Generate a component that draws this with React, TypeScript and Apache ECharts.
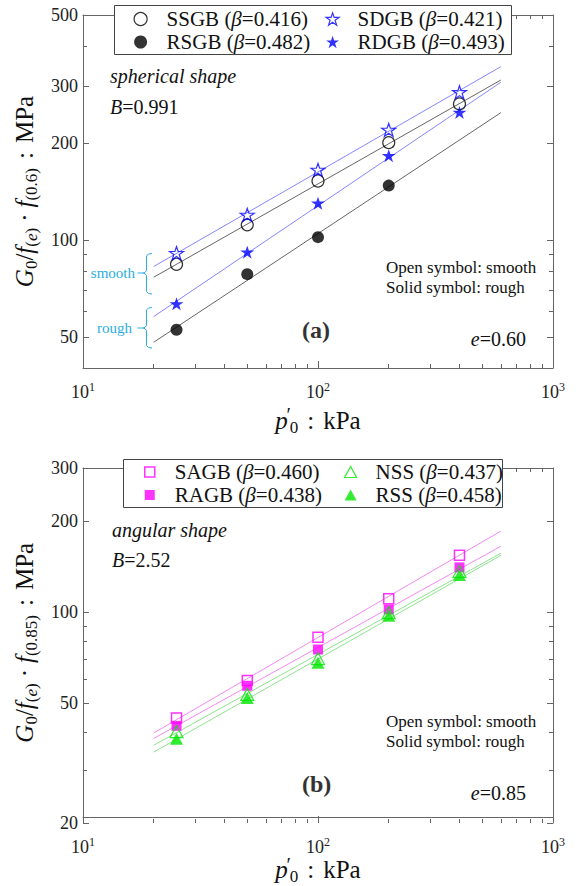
import React, { useEffect, useRef } from 'react';
import * as echarts from 'echarts';

const FONT = "'Liberation Serif', 'Times New Roman', 'DejaVu Serif', serif";

// ---------- data ----------
const pressure = [25, 50, 100, 200, 400];
const pressureRSGB = [25, 50, 100, 200];
const fitRange = [20, 600];

// panel (a) spherical shape
const SSGB = [84, 111.4, 152.5, 200.6, 264.7];
const RSGB = [52.6, 78.3, 102, 147.5];
const SDGB = [91, 119.6, 165, 219.7, 287.7];
const RDGB = [63.3, 91.6, 130, 182.8, 249];
const SSGBfit = [76.6, 314];
const RSGBfit = [48.1, 248.6];
const SDGBfit = [82.7, 345.5];
const RDGBfit = [57.8, 309];

// panel (b) angular shape
const SAGB = [43.2, 57.8, 80.9, 109, 152.6];
const RAGB = [40.7, 55.5, 73.5, 100.3, 138.9];
const NSS = [38.9, 51.9, 68.5, 97.8, 134.7];
const RSS = [36.8, 50.5, 66.3, 95.4, 131];
const SAGBfit = [38.5, 184];
const RAGBfit = [36.9, 163.6];
const NSSfit = [35.0, 155];
const RSSfit = [33.2, 152.5];

const namesA = ['SSGB', 'RSGB', 'SDGB', 'RDGB'];
const betasA = ['0.416', '0.482', '0.421', '0.493'];
const namesB = ['SAGB', 'RAGB', 'NSS', 'RSS'];
const betasB = ['0.460', '0.438', '0.437', '0.458'];

// axes
const xRange = [10, 1000];
const xMajorTicks = [10, 100, 1000];
const xMinorTicks = [20, 30, 40, 50, 60, 70, 80, 90, 200, 300, 400, 500, 600, 700, 800, 900];
const yRangeA = [40, 500];
const yTicksA = [50, 100, 200, 300, 500];
const yMinorA = [60, 70, 80, 90, 400];
const yRangeB = [20, 300];
const yTicksB = [20, 50, 100, 200, 300];
const yMinorB = [30, 40, 60, 70, 80, 90];

// ---------- styles ----------
const AXIS_COLOR = '#666';
const TEXT = '#111';
const STAR = 'path://M50,0 L61.8,35.4 L100,35.4 L69.1,57.3 L80.9,95.1 L50,72.4 L19.1,95.1 L30.9,57.3 L0,35.4 L38.2,35.4 Z';
const SQUARE_ICON = 'path://M0,0 L10,0 L10,10 L0,10 Z';
const TRI_ICON = 'path://M6,0 L12,11 L0,11 Z';

const nameRich: any = {
  n: { fontFamily: FONT, fontSize: 25, color: TEXT, lineHeight: 30 },
  c: { fontFamily: FONT, fontSize: 25, color: TEXT, lineHeight: 30, padding: [0, 9, 0, 9] },
  d: { fontFamily: FONT, fontSize: 25, color: TEXT, lineHeight: 30, padding: [0, 6, 0, 6] },
  i: { fontFamily: FONT, fontSize: 25, fontStyle: 'italic', color: TEXT, lineHeight: 30 },
  s: { fontFamily: FONT, fontSize: 17, color: TEXT, lineHeight: 30, padding: [14, 0, 0, 0] },
  si: { fontFamily: FONT, fontSize: 17, fontStyle: 'italic', color: TEXT, lineHeight: 30, padding: [14, 0, 0, 0] },
  p: { fontFamily: FONT, fontSize: 20, color: TEXT, lineHeight: 30, padding: [0, 0, 10, 0], width: 2 },
};

const lg = Math.log10;

function buildAxes() {
  const grids: any[] = [];
  const xAxes: any[] = [];
  const yAxes: any[] = [];
  const panels = [
    { top: 15, height: 353, yRange: yRangeA, yTicks: yTicksA, yMinor: yMinorA, sub: '(0.6)' },
    { top: 468, height: 355, yRange: yRangeB, yTicks: yTicksB, yMinor: yMinorB, sub: '(0.85)' },
  ];
  panels.forEach((p) => {
    const base = grids.length;
    for (let k = 0; k < 5; k++) grids.push({ left: 83, width: 470, top: p.top, height: p.height });
    const xl = [lg(xRange[0]), lg(xRange[1])];
    const yl = [lg(p.yRange[0]), lg(p.yRange[1])];
    xAxes.push({
      type: 'log', logBase: 10, gridIndex: base, min: xRange[0], max: xRange[1], position: 'bottom',
      axisLine: { show: true, lineStyle: { color: AXIS_COLOR, width: 1 } },
      axisTick: { show: false }, axisLabel: { show: false }, splitLine: { show: false },
      name: "{i|p}{p|′}{s|0}{c|:}{n|kPa}", nameLocation: 'middle', nameGap: 37,
      nameTextStyle: { rich: nameRich },
    });
    yAxes.push({
      type: 'log', logBase: 10, gridIndex: base, min: p.yRange[0], max: p.yRange[1], position: 'left',
      axisLine: { show: true, lineStyle: { color: AXIS_COLOR, width: 1 } },
      axisTick: { show: false }, axisLabel: { show: false }, splitLine: { show: false },
      name: `{i|G}{s|0}{n|/}{i|f}{s|(}{si|e}{s|)}{d|·}{i|f}{s|${p.sub}}{c|:}{n|MPa}`,
      nameLocation: 'middle', nameGap: 44,
      nameTextStyle: { rich: nameRich },
    });
    const tickAxis = (dim: 'x' | 'y', gi: number, position: string, ticks: number[], len: number, labels: number[] | null, line: boolean) => {
      const range = dim === 'x' ? xl : yl;
      const ax: any = {
        type: 'value', gridIndex: gi, min: range[0], max: range[1], position,
        axisLine: { show: line, onZero: false, lineStyle: { color: AXIS_COLOR, width: 1 } },
        axisTick: { show: true, inside: true, length: len, customValues: ticks.map(lg), lineStyle: { color: AXIS_COLOR, width: 1 } },
        splitLine: { show: false },
        axisLabel: { show: false },
      };
      if (labels) {
        ax.axisLabel = dim === 'x'
          ? {
              show: true, customValues: labels.map(lg), margin: 13,
              formatter: (v: number) => `{b|10}{e|${Math.round(v)}}`,
              rich: {
                b: { fontFamily: FONT, fontSize: 18, color: '#222', lineHeight: 22 },
                e: { fontFamily: FONT, fontSize: 12, color: '#222', lineHeight: 22, padding: [0, 0, 10, 0] },
              },
            }
          : {
              show: true, customValues: labels.map(lg), margin: 5,
              formatter: (v: number) => String(Math.round(Math.pow(10, v))),
              fontFamily: FONT, fontSize: 18, color: '#222',
            };
      }
      return ax;
    };
    xAxes.push(tickAxis('x', base + 1, 'bottom', xMajorTicks, 7, xMajorTicks, false));
    yAxes.push(tickAxis('y', base + 1, 'left', p.yTicks, 6, p.yTicks, false));
    xAxes.push(tickAxis('x', base + 2, 'top', xMajorTicks, 7, null, true));
    yAxes.push(tickAxis('y', base + 2, 'right', p.yTicks, 6, null, true));
    xAxes.push(tickAxis('x', base + 3, 'bottom', xMinorTicks, 4, null, false));
    yAxes.push(tickAxis('y', base + 3, 'left', p.yMinor, 4, null, false));
    xAxes.push(tickAxis('x', base + 4, 'top', xMinorTicks, 4, null, false));
    yAxes.push(tickAxis('y', base + 4, 'right', p.yMinor, 4, null, false));
  });
  return { grids, xAxes, yAxes };
}

function pts(xs: number[], ys: number[]) {
  return ys.map((y, i) => [xs[i], y]);
}

function scatter(name: string, axis: number, xs: number[], ys: number[], symbol: string, size: number | number[], itemStyle: any) {
  return {
    type: 'scatter', name, xAxisIndex: axis, yAxisIndex: axis, data: pts(xs, ys),
    symbol, symbolSize: size, itemStyle, z: 4, silent: true,
  };
}

function fit(name: string, axis: number, ys: number[], color: string) {
  return {
    type: 'line', name, xAxisIndex: axis, yAxisIndex: axis, data: pts(fitRange, ys),
    showSymbol: false, symbol: 'none', lineStyle: { color, width: 0.9 }, z: 2, silent: true,
  };
}

const BLUE = '#0000ff';
const MAG = '#ff00ff';
const GREEN = '#00e600';

const styles: Record<string, { icon: string; itemStyle: any; size: number | number[] }> = {
  SSGB: { icon: 'circle', size: 12, itemStyle: { color: 'rgba(0,0,0,0)', borderColor: '#000', borderWidth: 1.2 } },
  RSGB: { icon: 'circle', size: 12, itemStyle: { color: '#000' } },
  SDGB: { icon: STAR, size: [14, 13], itemStyle: { color: 'rgba(0,0,0,0)', borderColor: BLUE, borderWidth: 1.2 } },
  RDGB: { icon: STAR, size: [14, 13], itemStyle: { color: BLUE } },
  SAGB: { icon: SQUARE_ICON, size: 10, itemStyle: { color: 'rgba(0,0,0,0)', borderColor: MAG, borderWidth: 1.5 } },
  RAGB: { icon: SQUARE_ICON, size: 10, itemStyle: { color: MAG } },
  NSS: { icon: TRI_ICON, size: [13, 12], itemStyle: { color: 'rgba(0,0,0,0)', borderColor: GREEN, borderWidth: 1.2 } },
  RSS: { icon: TRI_ICON, size: [13, 12], itemStyle: { color: GREEN } },
};

const betaOf: Record<string, string> = {};
namesA.forEach((n, i) => (betaOf[n] = betasA[i]));
namesB.forEach((n, i) => (betaOf[n] = betasB[i]));

const LSIZE = 21;

function legend(names: string[], iconCenter: number, textStart: number, top: number, iconSize: number, dx = 0) {
  const left = iconCenter - iconSize / 2;
  const gap = textStart - (left + iconSize + 5);
  return {
    orient: 'vertical', left: left + dx, top, padding: 0, itemGap: 2, itemWidth: iconSize, itemHeight: iconSize,
    selectedMode: false, z: 6,
    data: names.map((n) => ({ name: n, icon: styles[n].icon, itemStyle: styles[n].itemStyle })),
    formatter: (name: string) => `{g| }{n|${name} (}{b|β}{n|=${betaOf[name]})}`,
    textStyle: {
      fontFamily: FONT, fontSize: LSIZE, color: TEXT, lineHeight: 21,
      rich: {
        g: { fontFamily: FONT, fontSize: LSIZE, lineHeight: 21, width: gap },
        n: { fontFamily: FONT, fontSize: LSIZE, color: TEXT, lineHeight: 21 },
        b: { fontFamily: FONT, fontSize: LSIZE, fontStyle: 'italic', color: TEXT, lineHeight: 21 },
      },
    },
  };
}

function txt(x: number, y: number, text: string, opts: any = {}) {
  const size = opts.size || 20;
  const weight = opts.weight || 'normal';
  const fill = opts.fill || TEXT;
  return {
    type: 'text', x, y, z: 5, silent: true,
    style: {
      text,
      font: `${opts.italic ? 'italic ' : ''}${weight} ${size}px ${FONT}`,
      fill, align: opts.align || 'left', verticalAlign: 'middle',
      rich: {
        i: { fontStyle: 'italic', fontSize: size, fontFamily: FONT, fill },
        n: { fontSize: size, fontFamily: FONT, fill },
      },
    },
  };
}

function brace(yTop: number, yMid: number, yBot: number) {
  const c = '#2aaee0';
  return [
    {
      type: 'polyline', z: 5, silent: true,
      shape: { points: [[152, yTop], [148.5, yTop + 0.5], [146.5, yTop + 2.5], [146.5, yMid - 2.5], [145, yMid - 0.6], [143, yMid], [145, yMid + 0.6], [146.5, yMid + 2.5], [146.5, yBot - 2.5], [148.5, yBot - 0.5], [152, yBot]] },
      style: { stroke: c, lineWidth: 1, fill: 'none' },
    },
    { type: 'line', z: 5, silent: true, shape: { x1: 137.5, y1: yMid, x2: 143, y2: yMid }, style: { stroke: c, lineWidth: 1 } },
  ];
}

function buildOption() {
  const { grids, xAxes, yAxes } = buildAxes();
  const A = 0;
  const B = 5;
  const series: any[] = [
    fit('SSGB fit', A, SSGBfit, '#555'),
    fit('RSGB fit', A, RSGBfit, '#555'),
    fit('SDGB fit', A, SDGBfit, '#7878ff'),
    fit('RDGB fit', A, RDGBfit, '#7878ff'),
    scatter('SSGB', A, pressure, SSGB, 'circle', styles.SSGB.size, styles.SSGB.itemStyle),
    scatter('RSGB', A, pressureRSGB, RSGB, 'circle', styles.RSGB.size, styles.RSGB.itemStyle),
    scatter('SDGB', A, pressure, SDGB, STAR, styles.SDGB.size, styles.SDGB.itemStyle),
    scatter('RDGB', A, pressure, RDGB, STAR, styles.RDGB.size, styles.RDGB.itemStyle),
    fit('SAGB fit', B, SAGBfit, '#f07cf0'),
    fit('RAGB fit', B, RAGBfit, '#f07cf0'),
    fit('NSS fit', B, NSSfit, '#80e080'),
    fit('RSS fit', B, RSSfit, '#80e080'),
    scatter('SAGB', B, pressure, SAGB, 'rect', styles.SAGB.size, styles.SAGB.itemStyle),
    scatter('RAGB', B, pressure, RAGB, 'rect', styles.RAGB.size, styles.RAGB.itemStyle),
    scatter('NSS', B, pressure, NSS, 'triangle', styles.NSS.size, styles.NSS.itemStyle),
    scatter('RSS', B, pressure, RSS, 'triangle', styles.RSS.size, styles.RSS.itemStyle),
  ];

  const graphic: any[] = [
    { type: 'rect', z: 3, silent: true, shape: { x: 114.5, y: 5.5, width: 397, height: 49 }, style: { fill: '#fff', stroke: '#444', lineWidth: 1 } },
    { type: 'rect', z: 3, silent: true, shape: { x: 123.5, y: 459.5, width: 379, height: 48 }, style: { fill: '#fff', stroke: '#444', lineWidth: 1 } },
    txt(110, 76, 'spherical shape', { italic: true }),
    txt(110, 107, '{i|B}{n|=0.991}'),
    txt(135, 273, 'smooth', { size: 15, fill: '#2aaee0', align: 'right' }),
    txt(132, 328, 'rough', { size: 15, fill: '#2aaee0', align: 'right' }),
    ...brace(253.5, 273, 294),
    ...brace(307.5, 328, 348),
    txt(386, 267, 'Open symbol: smooth', { size: 17 }),
    txt(386, 287, 'Solid symbol: rough', { size: 17 }),
    txt(302, 330, '(a)', { size: 24, weight: 'bold', fill: '#333' }),
    txt(526, 339, '{i|e}{n|=0.60}', { align: 'right' }),
    txt(112, 530, 'angular shape', { italic: true }),
    txt(112, 560, '{i|B}{n|=2.52}'),
    txt(386, 721, 'Open symbol: smooth', { size: 17 }),
    txt(386, 741, 'Solid symbol: rough', { size: 17 }),
    txt(302, 784, '(b)', { size: 24, weight: 'bold', fill: '#333' }),
    txt(526, 793, '{i|e}{n|=0.85}', { align: 'right' }),
  ];

  return {
    animation: false,
    backgroundColor: '#fff',
    textStyle: { fontFamily: FONT },
    grid: grids,
    xAxis: xAxes,
    yAxis: yAxes,
    legend: [
      legend(['SSGB', 'RSGB'], 140, 166, 8.5, 13),
      legend(['SDGB', 'RDGB'], 338, 363, 8.5, 13, -6),
      legend(['SAGB', 'RAGB'], 149, 174, 461.5, 10),
      legend(['NSS', 'RSS'], 350, 375, 461.5, 12),
    ],
    series,
    graphic,
  };
}

export default function App() {
  const ref = useRef<HTMLDivElement>(null);
  useEffect(() => {
    if (!ref.current) return;
    const chart = echarts.init(ref.current, null, { renderer: 'svg' });
    chart.setOption(buildOption() as any);
    return () => chart.dispose();
  }, []);
  return (
    <div
      ref={ref}
      style={{ position: 'absolute', left: 0, top: 0, width: 581, height: 886, background: '#fff' }}
    />
  );
}
